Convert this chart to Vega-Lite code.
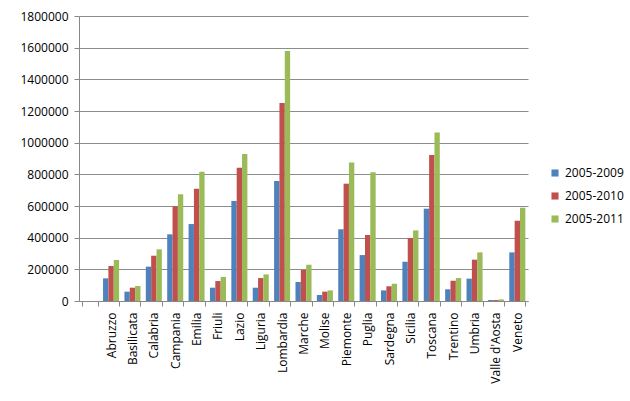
{
  "$schema": "https://vega.github.io/schema/vega-lite/v6.json",
  "width": 449,
  "height": 285,
  "autosize": {"type": "none"},
  "padding": {"left": 79, "top": 16, "right": 102, "bottom": 100},
  "background": "white",
  "config": {
    "font": "Open Sans",
    "view": {"stroke": null},
    "axis": {"labelFont": "Open Sans", "labelColor": "#000000", "labelFontSize": 12}
  },
  "data": {
    "values": [
      {"region": "Abruzzo", "period": "2005-2009", "value": 143000},
      {"region": "Abruzzo", "period": "2005-2010", "value": 221000},
      {"region": "Abruzzo", "period": "2005-2011", "value": 259000},
      {"region": "Basilicata", "period": "2005-2009", "value": 59000},
      {"region": "Basilicata", "period": "2005-2010", "value": 84000},
      {"region": "Basilicata", "period": "2005-2011", "value": 95000},
      {"region": "Calabria", "period": "2005-2009", "value": 217000},
      {"region": "Calabria", "period": "2005-2010", "value": 286000},
      {"region": "Calabria", "period": "2005-2011", "value": 326000},
      {"region": "Campania", "period": "2005-2009", "value": 421000},
      {"region": "Campania", "period": "2005-2010", "value": 598000},
      {"region": "Campania", "period": "2005-2011", "value": 674000},
      {"region": "Emilia", "period": "2005-2009", "value": 486000},
      {"region": "Emilia", "period": "2005-2010", "value": 709000},
      {"region": "Emilia", "period": "2005-2011", "value": 817000},
      {"region": "Friuli", "period": "2005-2009", "value": 84000},
      {"region": "Friuli", "period": "2005-2010", "value": 126000},
      {"region": "Friuli", "period": "2005-2011", "value": 152000},
      {"region": "Lazio", "period": "2005-2009", "value": 632000},
      {"region": "Lazio", "period": "2005-2010", "value": 842000},
      {"region": "Lazio", "period": "2005-2011", "value": 928000},
      {"region": "Liguria", "period": "2005-2009", "value": 84000},
      {"region": "Liguria", "period": "2005-2010", "value": 145000},
      {"region": "Liguria", "period": "2005-2011", "value": 168000},
      {"region": "Lombardia", "period": "2005-2009", "value": 758000},
      {"region": "Lombardia", "period": "2005-2010", "value": 1250000},
      {"region": "Lombardia", "period": "2005-2011", "value": 1579000},
      {"region": "Marche", "period": "2005-2009", "value": 120000},
      {"region": "Marche", "period": "2005-2010", "value": 196000},
      {"region": "Marche", "period": "2005-2011", "value": 229000},
      {"region": "Molise", "period": "2005-2009", "value": 38000},
      {"region": "Molise", "period": "2005-2010", "value": 59000},
      {"region": "Molise", "period": "2005-2011", "value": 67000},
      {"region": "Piemonte", "period": "2005-2009", "value": 453000},
      {"region": "Piemonte", "period": "2005-2010", "value": 741000},
      {"region": "Piemonte", "period": "2005-2011", "value": 874000},
      {"region": "Puglia", "period": "2005-2009", "value": 290000},
      {"region": "Puglia", "period": "2005-2010", "value": 417000},
      {"region": "Puglia", "period": "2005-2011", "value": 813000},
      {"region": "Sardegna", "period": "2005-2009", "value": 67000},
      {"region": "Sardegna", "period": "2005-2010", "value": 93000},
      {"region": "Sardegna", "period": "2005-2011", "value": 109000},
      {"region": "Sicilia", "period": "2005-2009", "value": 248000},
      {"region": "Sicilia", "period": "2005-2010", "value": 398000},
      {"region": "Sicilia", "period": "2005-2011", "value": 446000},
      {"region": "Toscana", "period": "2005-2009", "value": 583000},
      {"region": "Toscana", "period": "2005-2010", "value": 922000},
      {"region": "Toscana", "period": "2005-2011", "value": 1065000},
      {"region": "Trentino", "period": "2005-2009", "value": 74000},
      {"region": "Trentino", "period": "2005-2010", "value": 128000},
      {"region": "Trentino", "period": "2005-2011", "value": 145000},
      {"region": "Umbria", "period": "2005-2009", "value": 141000},
      {"region": "Umbria", "period": "2005-2010", "value": 261000},
      {"region": "Umbria", "period": "2005-2011", "value": 307000},
      {"region": "Valle d'Aosta", "period": "2005-2009", "value": 6000},
      {"region": "Valle d'Aosta", "period": "2005-2010", "value": 6000},
      {"region": "Valle d'Aosta", "period": "2005-2011", "value": 10000},
      {"region": "Veneto", "period": "2005-2009", "value": 307000},
      {"region": "Veneto", "period": "2005-2010", "value": 507000},
      {"region": "Veneto", "period": "2005-2011", "value": 589000}
    ]
  },
  "mark": {"type": "bar"},
  "encoding": {
    "x": {
      "field": "region",
      "type": "nominal",
      "title": null,
      "scale": {
        "domain": [" ", "Abruzzo", "Basilicata", "Calabria", "Campania", "Emilia", "Friuli", "Lazio", "Liguria", "Lombardia", "Marche", "Molise", "Piemonte", "Puglia", "Sardegna", "Sicilia", "Toscana", "Trentino", "Umbria", "Valle d'Aosta", "Veneto"],
        "paddingInner": 0.25,
        "paddingOuter": 0.125
      },
      "axis": {
        "labelAngle": -90,
        "labelPadding": 6,
        "tickBand": "extent",
        "tickColor": "#888888",
        "tickSize": 5,
        "domainColor": "#888888",
        "grid": false
      }
    },
    "xOffset": {"field": "period", "type": "nominal"},
    "y": {
      "field": "value",
      "type": "quantitative",
      "title": null,
      "scale": {"domain": [0, 1800000], "nice": false},
      "axis": {
        "values": [0, 200000, 400000, 600000, 800000, 1000000, 1200000, 1400000, 1600000, 1800000],
        "format": "d",
        "domain": true,
        "domainColor": "#888888",
        "ticks": true,
        "tickColor": "#888888",
        "tickSize": 5,
        "labelPadding": 6,
        "gridColor": "#8c8c8c",
        "gridWidth": 1
      }
    },
    "color": {
      "field": "period",
      "type": "nominal",
      "title": null,
      "scale": {"domain": ["2005-2009", "2005-2010", "2005-2011"], "range": ["#4F81BD", "#C0504D", "#9BBB59"]},
      "legend": {
        "orient": "none",
        "legendX": 470,
        "legendY": 151,
        "symbolType": "square",
        "symbolSize": 50,
        "symbolStrokeWidth": 0,
        "labelFontSize": 12,
        "labelColor": "#000000",
        "rowPadding": 11,
        "labelOffset": 4
      }
    }
  }
}
